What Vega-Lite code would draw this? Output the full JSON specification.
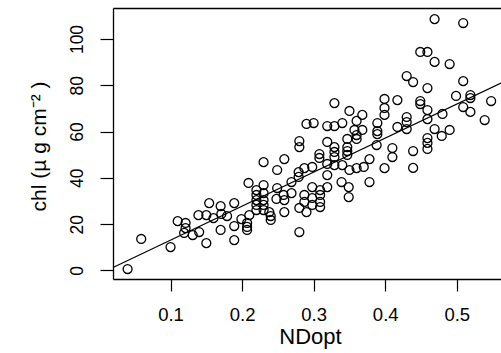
{
  "$schema": "https://vega.github.io/schema/vega-lite/v6.json",
  "width": 388,
  "height": 271,
  "autosize": {"type": "none"},
  "padding": {"left": 113, "top": 8, "right": 0, "bottom": 74},
  "background": "white",
  "config": {
    "view": {"stroke": null},
    "font": "Liberation Sans",
    "axis": {"grid": false, "domainColor": "black", "domainWidth": 1.3, "tickColor": "black", "tickWidth": 1.2, "labelColor": "black", "titleColor": "black", "titleFontWeight": "normal", "labelFlush": false, "labelOverlap": false}
  },
  "datasets": {
    "pts": [
      {"NDopt": 0.040, "chl": 0.6}, {"NDopt": 0.059, "chl": 13.6}, {"NDopt": 0.100, "chl": 10.1}, {"NDopt": 0.110, "chl": 21.3},
      {"NDopt": 0.121, "chl": 20.5}, {"NDopt": 0.121, "chl": 18.3}, {"NDopt": 0.119, "chl": 16.2}, {"NDopt": 0.131, "chl": 15.3},
      {"NDopt": 0.140, "chl": 16.6}, {"NDopt": 0.150, "chl": 11.8}, {"NDopt": 0.139, "chl": 23.9}, {"NDopt": 0.150, "chl": 23.9},
      {"NDopt": 0.154, "chl": 29.1}, {"NDopt": 0.280, "chl": 55.9}, {"NDopt": 0.280, "chl": 53.3}, {"NDopt": 0.259, "chl": 48.1},
      {"NDopt": 0.230, "chl": 46.8}, {"NDopt": 0.249, "chl": 43.4}, {"NDopt": 0.279, "chl": 42.5}, {"NDopt": 0.279, "chl": 40.4},
      {"NDopt": 0.209, "chl": 37.8}, {"NDopt": 0.230, "chl": 36.9}, {"NDopt": 0.249, "chl": 35.6}, {"NDopt": 0.269, "chl": 38.2},
      {"NDopt": 0.220, "chl": 34.7}, {"NDopt": 0.220, "chl": 32.6}, {"NDopt": 0.220, "chl": 30.4}, {"NDopt": 0.220, "chl": 28.3},
      {"NDopt": 0.220, "chl": 26.1}, {"NDopt": 0.230, "chl": 33.4}, {"NDopt": 0.230, "chl": 30.4}, {"NDopt": 0.230, "chl": 28.3},
      {"NDopt": 0.230, "chl": 26.1}, {"NDopt": 0.248, "chl": 30.9}, {"NDopt": 0.258, "chl": 32.6}, {"NDopt": 0.259, "chl": 30.4},
      {"NDopt": 0.269, "chl": 33.4}, {"NDopt": 0.170, "chl": 27.8}, {"NDopt": 0.189, "chl": 29.1}, {"NDopt": 0.160, "chl": 22.6},
      {"NDopt": 0.171, "chl": 24.4}, {"NDopt": 0.179, "chl": 23.5}, {"NDopt": 0.199, "chl": 22.2}, {"NDopt": 0.210, "chl": 23.9},
      {"NDopt": 0.238, "chl": 25.2}, {"NDopt": 0.240, "chl": 23.5}, {"NDopt": 0.240, "chl": 21.8}, {"NDopt": 0.259, "chl": 25.2},
      {"NDopt": 0.280, "chl": 27.0}, {"NDopt": 0.207, "chl": 20.5}, {"NDopt": 0.207, "chl": 18.8}, {"NDopt": 0.207, "chl": 17.5},
      {"NDopt": 0.189, "chl": 19.2}, {"NDopt": 0.170, "chl": 17.5}, {"NDopt": 0.280, "chl": 16.6}, {"NDopt": 0.189, "chl": 13.1},
      {"NDopt": 0.329, "chl": 72.3}, {"NDopt": 0.350, "chl": 68.9}, {"NDopt": 0.368, "chl": 67.2}, {"NDopt": 0.399, "chl": 74.1},
      {"NDopt": 0.417, "chl": 73.6}, {"NDopt": 0.399, "chl": 70.2}, {"NDopt": 0.399, "chl": 67.2}, {"NDopt": 0.360, "chl": 64.6},
      {"NDopt": 0.290, "chl": 63.3}, {"NDopt": 0.300, "chl": 63.7}, {"NDopt": 0.319, "chl": 62.4}, {"NDopt": 0.329, "chl": 62.4},
      {"NDopt": 0.340, "chl": 63.7}, {"NDopt": 0.357, "chl": 60.7}, {"NDopt": 0.368, "chl": 60.7}, {"NDopt": 0.389, "chl": 63.7},
      {"NDopt": 0.389, "chl": 60.2}, {"NDopt": 0.389, "chl": 58.9}, {"NDopt": 0.417, "chl": 62.0}, {"NDopt": 0.360, "chl": 58.5},
      {"NDopt": 0.360, "chl": 56.8}, {"NDopt": 0.347, "chl": 56.8}, {"NDopt": 0.347, "chl": 53.3}, {"NDopt": 0.347, "chl": 51.6},
      {"NDopt": 0.347, "chl": 49.9}, {"NDopt": 0.319, "chl": 55.5}, {"NDopt": 0.329, "chl": 53.3}, {"NDopt": 0.329, "chl": 51.2},
      {"NDopt": 0.329, "chl": 49.0}, {"NDopt": 0.308, "chl": 50.3}, {"NDopt": 0.308, "chl": 48.6}, {"NDopt": 0.388, "chl": 54.2},
      {"NDopt": 0.410, "chl": 52.9}, {"NDopt": 0.410, "chl": 49.0}, {"NDopt": 0.378, "chl": 48.1}, {"NDopt": 0.319, "chl": 46.0},
      {"NDopt": 0.329, "chl": 45.5}, {"NDopt": 0.298, "chl": 44.7}, {"NDopt": 0.340, "chl": 45.5}, {"NDopt": 0.370, "chl": 44.7},
      {"NDopt": 0.399, "chl": 44.2}, {"NDopt": 0.287, "chl": 44.2}, {"NDopt": 0.350, "chl": 43.4}, {"NDopt": 0.360, "chl": 44.2},
      {"NDopt": 0.378, "chl": 38.2}, {"NDopt": 0.339, "chl": 38.2}, {"NDopt": 0.349, "chl": 36.0}, {"NDopt": 0.349, "chl": 31.7},
      {"NDopt": 0.319, "chl": 36.0}, {"NDopt": 0.319, "chl": 41.2}, {"NDopt": 0.298, "chl": 36.0}, {"NDopt": 0.309, "chl": 34.7},
      {"NDopt": 0.309, "chl": 32.6}, {"NDopt": 0.309, "chl": 29.6}, {"NDopt": 0.309, "chl": 27.4}, {"NDopt": 0.298, "chl": 31.3},
      {"NDopt": 0.298, "chl": 28.3}, {"NDopt": 0.287, "chl": 32.6}, {"NDopt": 0.287, "chl": 29.6}, {"NDopt": 0.290, "chl": 25.2},
      {"NDopt": 0.469, "chl": 108.6}, {"NDopt": 0.509, "chl": 106.9}, {"NDopt": 0.449, "chl": 94.4}, {"NDopt": 0.459, "chl": 94.4},
      {"NDopt": 0.469, "chl": 90.1}, {"NDopt": 0.490, "chl": 89.2}, {"NDopt": 0.430, "chl": 84.0}, {"NDopt": 0.439, "chl": 81.4},
      {"NDopt": 0.459, "chl": 78.8}, {"NDopt": 0.509, "chl": 81.8}, {"NDopt": 0.449, "chl": 73.2}, {"NDopt": 0.449, "chl": 71.9},
      {"NDopt": 0.499, "chl": 75.4}, {"NDopt": 0.519, "chl": 75.8}, {"NDopt": 0.519, "chl": 74.5}, {"NDopt": 0.548, "chl": 73.2},
      {"NDopt": 0.459, "chl": 69.3}, {"NDopt": 0.480, "chl": 67.6}, {"NDopt": 0.509, "chl": 70.6}, {"NDopt": 0.519, "chl": 68.5},
      {"NDopt": 0.430, "chl": 66.3}, {"NDopt": 0.430, "chl": 64.1}, {"NDopt": 0.430, "chl": 61.1}, {"NDopt": 0.459, "chl": 65.4},
      {"NDopt": 0.539, "chl": 65.0}, {"NDopt": 0.469, "chl": 61.1}, {"NDopt": 0.490, "chl": 60.7}, {"NDopt": 0.479, "chl": 58.1},
      {"NDopt": 0.459, "chl": 57.2}, {"NDopt": 0.459, "chl": 55.1}, {"NDopt": 0.459, "chl": 52.5}, {"NDopt": 0.439, "chl": 51.6},
      {"NDopt": 0.439, "chl": 44.3}
    ],
    "fit": [
      {"NDopt": 0.0196, "chl": 1.3},
      {"NDopt": 0.5618, "chl": 81.0}
    ]
  },
  "layer": [
    {
      "data": {"name": "pts"},
      "mark": {"type": "point", "shape": "circle", "filled": false, "stroke": "black", "strokeWidth": 1.3, "size": 80, "opacity": 1},
      "encoding": {
        "x": {
          "field": "NDopt", "type": "quantitative",
          "scale": {"domain": [0.0196, 0.5618], "nice": false, "zero": false},
          "axis": {
            "orient": "bottom", "values": [0.1, 0.2, 0.3, 0.4, 0.5], "format": ".1f",
            "tickSize": 12, "labelFontSize": 18.5, "labelPadding": 14, "labelBaseline": "top",
            "title": "NDopt", "titleFontSize": 22, "titleX": 197, "titleY": 64,
            "titleBaseline": "alphabetic", "titleAlign": "center", "titleAnchor": null
          }
        },
        "y": {
          "field": "chl", "type": "quantitative",
          "scale": {"domain": [-3.7, 113.4], "nice": false, "zero": false},
          "axis": {
            "orient": "left", "values": [0, 20, 40, 60, 80, 100],
            "tickSize": 13, "labelFontSize": 17.5, "labelAngle": -90, "labelAlign": "center",
            "labelBaseline": "alphabetic", "labelPadding": 18,
            "title": "chl (µ g  cm⁻²  )", "titleFontSize": 21, "titleAngle": -90,
            "titleX": -68, "titleY": 138, "titleAlign": "center", "titleBaseline": "alphabetic", "titleAnchor": null
          }
        }
      }
    },
    {
      "data": {"name": "fit"},
      "mark": {"type": "line", "color": "black", "strokeWidth": 1.2},
      "encoding": {
        "x": {
          "field": "NDopt", "type": "quantitative",
          "axis": {"orient": "top", "domain": true, "ticks": false, "labels": false, "title": null}
        },
        "y": {"field": "chl", "type": "quantitative"}
      }
    }
  ],
  "resolve": {"axis": {"x": "independent"}}
}
